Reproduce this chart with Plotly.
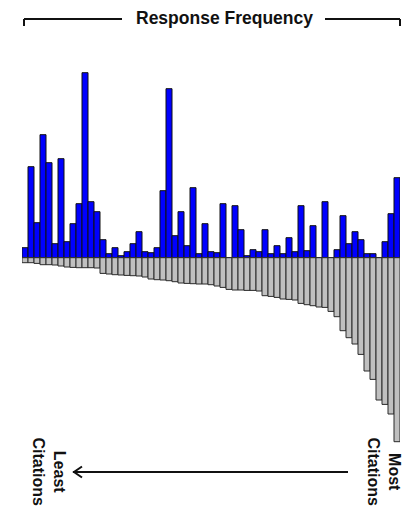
import plotly.graph_objects as go

# ---- data ----
categories = list(range(1, 64))  # papers ordered from least to most citations
response_frequency = [10, 91, 35, 123, 95, 14, 99, 16, 34, 54,
                      185, 56, 46, 18, 4, 10, 2, 6, 14, 26,
                      6, 5, 10, 67, 169, 22, 46, 12, 70, 4,
                      34, 6, 5, 54, 0, 52, 28, 2, 8, 6,
                      28, 4, 12, 4, 20, 6, 52, 7, 32, 0,
                      56, 0, 8, 42, 14, 26, 18, 4, 4, 0,
                      16, 44, 80]
citations = [5, 5, 5.7, 7, 7, 7.3, 8.3, 9.3, 9.7, 10,
             10, 10, 10.3, 15.7, 16.3, 17, 17.3, 17.7, 18, 18.3,
             19.3, 21.3, 22, 22.3, 23, 24, 25.3, 25.7, 26, 26.3,
             26.3, 27, 28.3, 29.7, 31.7, 32.3, 32.3, 32.7, 32.7, 33.3,
             38, 38.7, 39.7, 41.3, 41.7, 42.3, 45.7, 47, 48, 49.3,
             49.7, 53.7, 59, 73, 80, 86.3, 96.7, 113.3, 121.7, 142.3,
             146.7, 156.3, 184]

W, H = 410, 510
ML, MR, MT, MB = 22, 10, 50, 50
PW, PH = W - ML - MR, H - MT - MB


def px(x):
    return (x - ML) / PW


def py(y):
    return (H - MB - y) / PH


fig = go.Figure()
fig.add_trace(go.Bar(
    x=categories, y=response_frequency,
    marker=dict(color="#0000FF", line=dict(color="#111111", width=1)),
    hoverinfo="skip", showlegend=False,
))
fig.add_trace(go.Bar(
    x=categories, y=[-c for c in citations],
    marker=dict(color="#C0C0C0", line=dict(color="#2a2a2a", width=1)),
    hoverinfo="skip", showlegend=False,
))

baseline = 257.7
top_val = baseline - MT
bot_val = -(H - MB - baseline)

shapes = []
line_style = dict(color="#111111", width=2)
# top bracket and bottom arrow shaft
for (x0, y0, x1, y1) in [(24, 19, 122, 19), (325, 19, 400, 19),
                         (24, 19, 24, 26), (400, 19, 400, 26),
                         (73, 472, 348, 472)]:
    shapes.append(dict(type="line", xref="paper", yref="paper",
                       x0=px(x0), y0=py(y0), x1=px(x1), y1=py(y1),
                       line=line_style))
# arrowhead
shapes.append(dict(type="path", xref="paper", yref="paper",
                   path=f"M {px(82)} {py(466.5)} L {px(74)} {py(472)} L {px(82)} {py(477.5)}",
                   line=line_style))

fam = "Liberation Sans, Arial, Helvetica, sans-serif"
title_font = dict(family=fam, size=17.5, color="#111111")
side_font = dict(family=fam, size=16, color="#111111")
annotations = [
    dict(text="<b>Response Frequency</b>", xref="paper", yref="paper",
         x=px(224), y=py(18), showarrow=False, font=title_font,
         xanchor="center", yanchor="middle"),
    dict(text="<b>Least<br>Citations</b>", xref="paper", yref="paper",
         x=px(48.5), y=py(472), showarrow=False, font=side_font, textangle=90,
         xanchor="center", yanchor="middle"),
    dict(text="<b>Most<br>Citations</b>", xref="paper", yref="paper",
         x=px(383.5), y=py(472), showarrow=False, font=side_font, textangle=90,
         xanchor="center", yanchor="middle"),
]

fig.update_layout(
    width=W, height=H,
    margin=dict(l=ML, r=MR, t=MT, b=MB, pad=0),
    paper_bgcolor="white", plot_bgcolor="white",
    barmode="relative", bargap=0,
    xaxis=dict(visible=False, range=[0.5, 63.5]),
    yaxis=dict(visible=False, range=[bot_val, top_val]),
    shapes=shapes, annotations=annotations,
    hovermode=False,
)

fig.write_html("out.html",
               config={"displayModeBar": False, "staticPlot": True},
               post_script="document.body.style.margin='0';document.body.style.overflow='hidden';")
